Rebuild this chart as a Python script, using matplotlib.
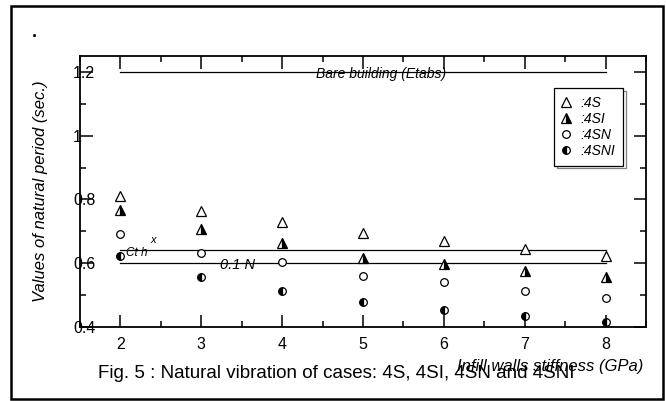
import matplotlib
matplotlib.use("Agg")
import matplotlib.pyplot as plt
from matplotlib.patches import Rectangle
from matplotlib.ticker import MultipleLocator

# stiffness of infill walls (GPa)
stiffness = [2, 3, 4, 5, 6, 7, 8]

# natural periods (sec.)
period_4S = [0.810, 0.764, 0.729, 0.694, 0.669, 0.646, 0.623]
period_4SI = [0.766, 0.709, 0.663, 0.618, 0.597, 0.577, 0.556]
period_4SN = [0.691, 0.632, 0.603, 0.561, 0.542, 0.512, 0.492]
period_4SNI = [0.623, 0.558, 0.514, 0.480, 0.454, 0.434, 0.416]

# reference lines
bare_building = 1.2
ct_hx = 0.641
n_01 = 0.6

plt.rcParams['font.family'] = ['Liberation Sans', 'DejaVu Sans']

fig = plt.figure(figsize=(6.66, 4.01), dpi=100)
ax = fig.add_axes([0.120, 0.1845, 0.850, 0.6758])

lx = [stiffness[0], stiffness[-1]]
ax.plot(lx, [bare_building] * 2, color='black', lw=0.9)
ax.plot(lx, [ct_hx] * 2, color='black', lw=0.9)
ax.plot(lx, [n_01] * 2, color='black', lw=0.9)

ax.plot(stiffness, period_4S, ls='none', marker='^', ms=6.5, mfc='white',
        mec='black', mew=0.9, label=':4S')
ax.plot(stiffness, period_4SI, ls='none', marker='^', ms=6.5, mfc='black',
        mec='black', mew=0.9, fillstyle='right', markerfacecoloralt='white',
        label=':4SI')
ax.plot(stiffness, period_4SN, ls='none', marker='o', ms=5.5, mfc='white',
        mec='black', mew=0.9, label=':4SN')
ax.plot(stiffness, period_4SNI, ls='none', marker='o', ms=5.5, mfc='black',
        mec='black', mew=0.9, fillstyle='left', markerfacecoloralt='white',
        label=':4SNI')

ax.text(5.22, 1.193, 'Bare building (Etabs)', style='italic', fontsize=10,
        ha='center', va='center')
ax.text(3.45, 0.595, '0.1 N', style='italic', fontsize=10.5,
        ha='center', va='center')
ax.text(2.2, 0.632, 'Ct h', style='italic', fontsize=8.5,
        ha='center', va='center')
ax.text(2.41, 0.673, 'x', style='italic', fontsize=8,
        ha='center', va='center')

ax.set_xlim(1.5, 8.5)
ax.set_ylim(0.4, 1.25)
ax.xaxis.set_major_locator(MultipleLocator(1))
ax.xaxis.set_minor_locator(MultipleLocator(0.5))
ax.yaxis.set_minor_locator(MultipleLocator(0.1))
ax.set_yticks([0.4, 0.6, 0.8, 1.0, 1.2])
ax.set_yticklabels(['0.4', '0.6', '0.8', '1', '1.2'])
ax.tick_params(which='both', direction='in', top=True, right=True,
               width=1.1, labelsize=11.5)
ax.tick_params(which='major', length=9)
ax.tick_params(which='minor', length=4.5)
ax.tick_params(axis='x', pad=7)
ax.tick_params(axis='y', pad=5)
for t in ax.get_yticklabels():
    t.set_horizontalalignment('left')
for s in ax.spines.values():
    s.set_linewidth(1.3)

ax.set_ylabel('Values of natural period (sec.)', style='italic',
              fontsize=12, labelpad=18)

leg = ax.legend(loc='upper left', bbox_to_anchor=(0.837, 0.882),
                borderaxespad=0, frameon=True, fancybox=False,
                edgecolor='black', framealpha=1, handlelength=0.7,
                handletextpad=0.7, labelspacing=0.15, borderpad=0.55,
                prop={'style': 'italic', 'size': 10},
                shadow={'facecolor': 'white', 'edgecolor': 'black',
                        'linewidth': 0.9})
leg.get_frame().set_linewidth(0.9)

fig.text(457 / 666, 1 - 366 / 401, 'Infill walls stiffness (GPa)',
         style='italic', fontsize=12, ha='left', va='center')
fig.text(336 / 666, 1 - 374 / 401,
         'Fig. 5 : Natural vibration of cases: 4S, 4SI, 4SN and 4SNI',
         fontsize=13.5, ha='center', va='center')
fig.text(34 / 666, 1 - 37 / 401, '.', fontsize=13, fontweight='bold',
         ha='center', va='baseline')

fig.patches.append(Rectangle((11 / 666, 1 - 399 / 401), 652 / 666,
                             393 / 401, transform=fig.transFigure,
                             fill=False, edgecolor='black', lw=1.8))

fig.savefig('out.png', dpi=100)
